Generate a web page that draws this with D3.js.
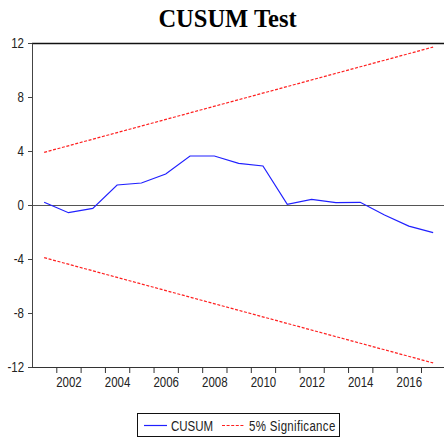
<!DOCTYPE html>
<html>
<head>
<meta charset="utf-8">
<script src="https://cdn.jsdelivr.net/npm/d3@7"></script>
<style>
  html, body { margin: 0; padding: 0; background: #fff; overflow: hidden; }
  #chart { width: 444px; height: 437px; }
</style>
</head>
<body>
<div id="chart"></div>
<script>
// CUSUM values by year
const YEARS = [2001, 2002, 2003, 2004, 2005, 2006, 2007, 2008, 2009,
               2010, 2011, 2012, 2013, 2014, 2015, 2016, 2017];
const CUSUM = [0.2, -0.57, -0.25, 1.48, 1.63, 2.3, 3.63, 3.63, 3.09,
               2.89, 0.05, 0.42, 0.17, 0.2, -0.74, -1.56, -2.05];
// 5% significance bounds (straight lines, endpoints)
const BOUND_YEARS = [2001, 2017];
const UPPER = [3.9, 11.7];
const LOWER = [-3.9, -11.7];
const Y_TICKS = [-12, -8, -4, 0, 4, 8, 12];
const X_LABELS = [2002, 2004, 2006, 2008, 2010, 2012, 2014, 2016];

const W = 444, H = 437;
const LABEL_FONT = "'Liberation Sans', Arial, sans-serif";
const NARROW = 0.82; // EViews labels are set in a condensed face

const svg = d3.select('#chart').append('svg')
  .attr('width', W).attr('height', H);

const x = d3.scaleLinear().domain([2000.5, 2017.5]).range([32, 445.3]);
const y = d3.scaleLinear().domain([-12, 12]).range([367, 43]);

// squeeze text horizontally to mimic the narrow font
function narrow(sel) {
  sel.each(function () {
    const w = this.getComputedTextLength();
    d3.select(this)
      .attr('textLength', w * NARROW)
      .attr('lengthAdjust', 'spacingAndGlyphs');
  });
}

// title
svg.append('text')
  .attr('x', 227.5).attr('y', 27)
  .attr('text-anchor', 'middle')
  .attr('font-family', "'Liberation Serif', 'Times New Roman', serif")
  .attr('font-weight', 'bold')
  .attr('font-size', 24.5)
  .attr('fill', '#000')
  .text('CUSUM Test');

// top frame line
svg.append('line')
  .attr('x1', 32).attr('x2', W)
  .attr('y1', 43.5).attr('y2', 43.5)
  .attr('stroke', '#111').attr('stroke-width', 1.3);

// zero line
svg.append('line')
  .attr('x1', 32).attr('x2', W)
  .attr('y1', Math.round(y(0)) + 0.5).attr('y2', Math.round(y(0)) + 0.5)
  .attr('stroke', '#555').attr('stroke-width', 1);

// y axis
const yAxis = svg.append('g')
  .attr('transform', 'translate(32,0)')
  .call(d3.axisLeft(y).tickValues(Y_TICKS).tickFormat(d => String(d))
    .tickSize(4).tickPadding(4).tickSizeOuter(0));
yAxis.select('.domain').attr('stroke', '#444');
yAxis.selectAll('.tick line').attr('stroke', '#444');
yAxis.selectAll('text')
  .attr('font-family', LABEL_FONT).attr('font-size', 14).attr('fill', '#222')
  .call(narrow);

// x axis: ticks at period boundaries
const bounds = d3.range(2001.5, 2017.5, 1);
const xAxis = svg.append('g')
  .attr('transform', 'translate(0,367)')
  .call(d3.axisBottom(x).tickValues(bounds).tickFormat('').tickSize(6).tickSizeOuter(0));
xAxis.select('.domain').attr('stroke', '#333').attr('d', `M32,0.5H${W}`);
xAxis.selectAll('.tick line').attr('stroke', '#333');

// x labels centred in period
const xLab = svg.append('g')
  .attr('transform', 'translate(0,367)')
  .call(d3.axisBottom(x).tickValues(X_LABELS).tickFormat(d => String(d))
    .tickSize(0).tickPadding(10));
xLab.select('.domain').remove();
xLab.selectAll('text')
  .attr('font-family', LABEL_FONT).attr('font-size', 14).attr('fill', '#222')
  .call(narrow);

// lines
const line = d3.line().x(d => x(d[0])).y(d => y(d[1]));

svg.append('path')
  .datum(d3.zip(BOUND_YEARS, UPPER))
  .attr('d', line).attr('fill', 'none')
  .attr('stroke', '#ff2020').attr('stroke-width', 1.2)
  .attr('stroke-dasharray', '3,1.6');

svg.append('path')
  .datum(d3.zip(BOUND_YEARS, LOWER))
  .attr('d', line).attr('fill', 'none')
  .attr('stroke', '#ff2020').attr('stroke-width', 1.2)
  .attr('stroke-dasharray', '3,1.6');

svg.append('path')
  .datum(d3.zip(YEARS, CUSUM))
  .attr('d', line).attr('fill', 'none')
  .attr('stroke', '#2020ff').attr('stroke-width', 1.2);

// legend
const lg = svg.append('g');
lg.append('rect')
  .attr('x', 137.5).attr('y', 413.5).attr('width', 202).attr('height', 23)
  .attr('fill', '#fff').attr('stroke', '#111').attr('stroke-width', 1);
lg.append('line')
  .attr('x1', 144).attr('x2', 167).attr('y1', 425.5).attr('y2', 425.5)
  .attr('stroke', '#2020ff').attr('stroke-width', 1.2);
lg.append('text')
  .attr('x', 171).attr('y', 430.5)
  .attr('font-family', LABEL_FONT).attr('font-size', 14).attr('fill', '#222')
  .text('CUSUM')
  .call(narrow);
lg.append('line')
  .attr('x1', 222).attr('x2', 244).attr('y1', 425.5).attr('y2', 425.5)
  .attr('stroke', '#ff2020').attr('stroke-width', 1.2)
  .attr('stroke-dasharray', '3,1.6');
lg.append('text')
  .attr('x', 249).attr('y', 430.5)
  .attr('font-family', LABEL_FONT).attr('font-size', 14).attr('fill', '#222')
  .text('5% Significance')
  .attr('letter-spacing', 0.4)
  .call(narrow);
</script>
</body>
</html>
